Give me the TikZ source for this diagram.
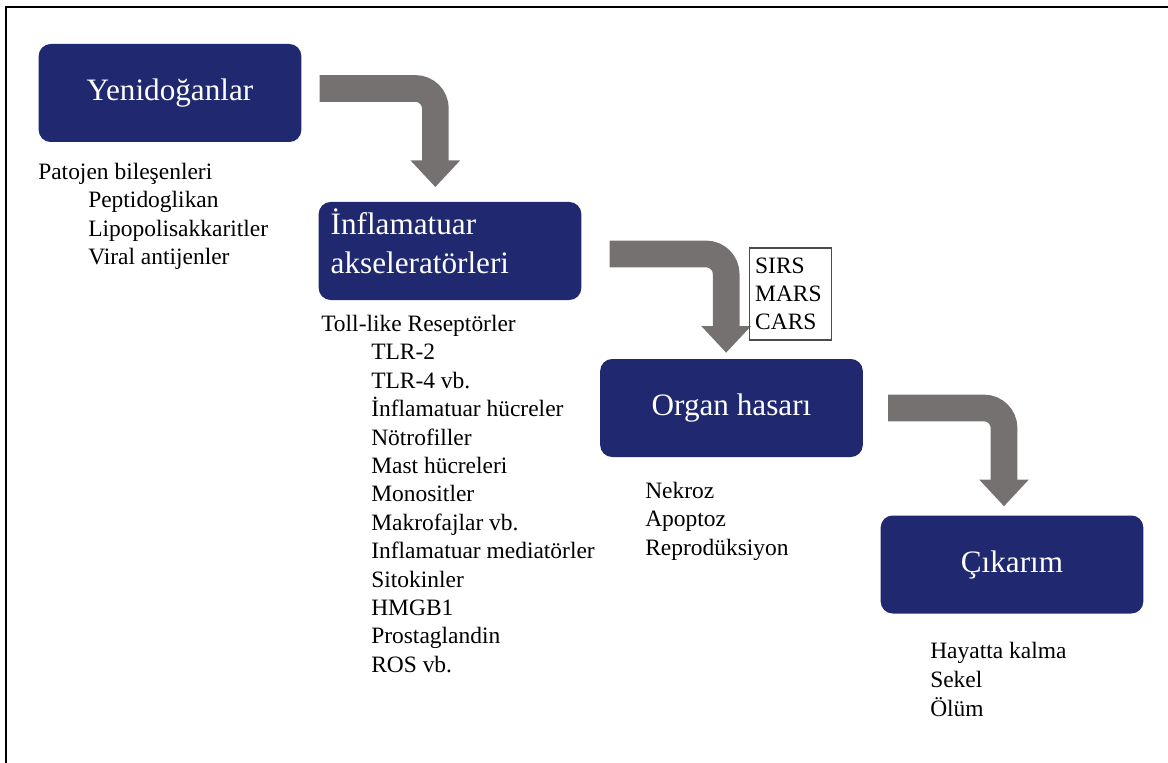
\documentclass[tikz,border=0pt]{standalone}
\usepackage{fontspec}
\setmainfont{Liberation Serif}
\usepackage{tikz}
\usetikzlibrary{arrows.meta}
\definecolor{boxblue}{RGB}{32,40,112}
\definecolor{arrowgray}{RGB}{118,113,113}
\newcommand{\listindent}{\hspace*{37.5pt}}
\tikzset{
  stage/.style={fill=boxblue, rounded corners=9pt, minimum width=197pt, minimum height=73.5pt,
    inner sep=0pt, text=white, font=\fontsize{23.4}{29.3}\selectfont},
  flowarrow/.style={draw=arrowgray, line width=20pt, rounded corners=15pt,
    -{Triangle[length=20pt,width=36pt]}},
  items/.style={anchor=north west, align=left, inner sep=0pt, font=\fontsize{17.6}{21.3}\selectfont},
}

\begin{document}
\begin{tikzpicture}[x=0.75pt,y=-0.75pt]
	%%%%% START %%%%%
	\useasboundingbox (0,0) rectangle (1168,763);
	\draw[line width=1.5pt] (6,763) -- (6,7) -- (1168,7);
	
	\node[stage] (yeni) at (170,93) {Yenidoğanlar};
	\node[stage, text width=179pt, inner xsep=9pt, align=left, text depth=44pt] (infl) at (450,251) {İnflamatuar\\akseleratörleri};
	\node[stage] (organ) at (731.5,408) {Organ hasarı};
	\node[stage] (cikarim) at (1012,564.5) {Çıkarım};
	
	\draw[flowarrow, shorten <=13.5pt, shorten >=11pt] ([yshift=3.4pt]yeni.east) -| ([xshift=-11pt]infl.north);
	\draw[flowarrow, shorten <=21pt, shorten >=4.5pt] ([yshift=-2.25pt]infl.east) -| ([xshift=-4pt]organ.north);
	\draw[flowarrow, shorten <=18.75pt, shorten >=6.75pt] (organ.east) -| ([xshift=-6pt]cikarim.north);
	
	\node[draw=black!70, line width=0.8pt, inner xsep=4.5pt, inner ysep=0pt, minimum height=69pt,
		text width=53pt, align=left, font=\fontsize{17.6}{21}\selectfont] (sirs) at (790.5,294) {SIRS\\MARS\\CARS};
	
	\node[items] (patojen) at (38,163) {Patojen bileşenleri\\\listindent Peptidoglikan\\\listindent Lipopolisakkaritler\\\listindent Viral antijenler};
	\node[items] (toll) at (321,315) {Toll-like Reseptörler\\\listindent TLR-2\\\listindent TLR-4 vb.\\\listindent İnflamatuar hücreler\\\listindent Nötrofiller\\\listindent Mast hücreleri\\\listindent Monositler\\\listindent Makrofajlar vb.\\\listindent Inflamatuar mediatörler\\\listindent Sitokinler\\\listindent HMGB1\\\listindent Prostaglandin\\\listindent ROS vb.};
	\node[items] (hasar) at (645,482) {Nekroz\\Apoptoz\\Reprodüksiyon};
	\node[items, font=\fontsize{17.6}{21.8}\selectfont] (sonuc) at (930,642) {Hayatta kalma\\Sekel\\Ölüm};
	%%%%% END %%%%%
\end{tikzpicture}
\end{document}
